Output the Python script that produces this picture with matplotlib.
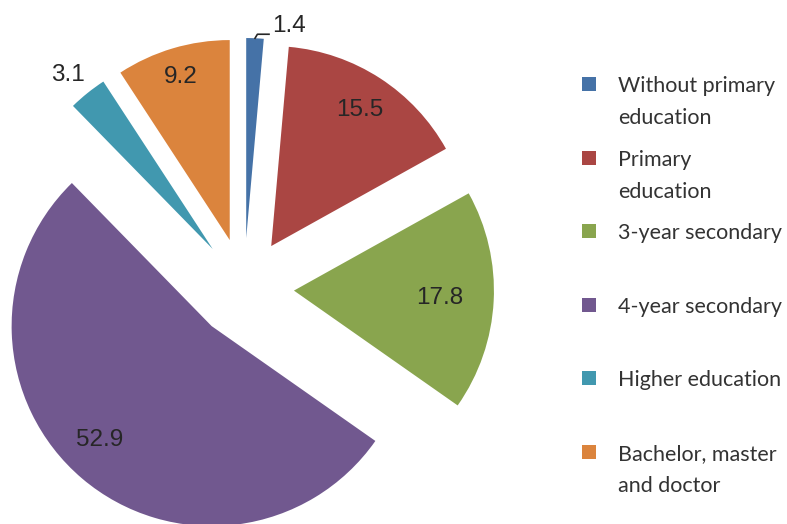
import matplotlib
matplotlib.use("Agg")
import matplotlib.pyplot as plt
from matplotlib.patches import Rectangle
import numpy as np

categories = ["Without primary education", "Primary education", "3-year secondary",
              "4-year secondary", "Higher education", "Bachelor, master and doctor"]
legend_lines = [["Without primary", "education"], ["Primary", "education"],
                ["3-year secondary"], ["4-year secondary"], ["Higher education"],
                ["Bachelor, master", "and doctor"]]
values = [1.4, 15.5, 17.8, 52.9, 3.1, 9.2]
value_labels = ["1.4", "15.5", "17.8", "52.9", "3.1", "9.2"]

colors = ["#4572A7", "#AA4643", "#89A54E", "#71588F", "#4198AF", "#DB843D"]
label_dist = [1.08, 0.81, 0.73, 0.80, 1.13, 0.85]
label_ang_off = [-9, 0, 0, -4, 1, 0]

W, H = 787, 524
fig = plt.figure(figsize=(W / 100, H / 100), dpi=100)
ax = fig.add_axes([0, 0, 1, 1])

R = 200.0
cx, cy = 244.0, 288.0  # pixel position of pie centre (from top)
wedges, _ = ax.pie(values, colors=colors, startangle=90, counterclock=False,
                   explode=[0.25] * len(values), radius=1.0,
                   wedgeprops=dict(linewidth=0))
ax.set_xlim(-cx / R, (W - cx) / R)
ax.set_ylim(-(H - cy) / R, cy / R)
ax.set_aspect("auto")
ax.axis("off")

for w, lab, d, off in zip(wedges, value_labels, label_dist, label_ang_off):
    mid = np.deg2rad((w.theta1 + w.theta2) / 2 + off)
    x0, y0 = w.center
    ax.text(x0 + d * np.cos(mid), y0 + d * np.sin(mid), lab, ha="center", va="center",
            fontsize=17.5, color="#262626", family="Liberation Sans")

# leader line for the small first slice
w = wedges[0]
mid = np.deg2rad((w.theta1 + w.theta2) / 2)
x0, y0 = w.center
px, py = x0 + 1.0 * np.cos(mid), y0 + 1.0 * np.sin(mid)
ax.plot([px, px + 0.012, px + 0.07], [py, py + 0.02, py + 0.02], color="#262626", lw=1.2)

# legend (manual)
fs = 15.5
for i, (lines, col) in enumerate(zip(legend_lines, colors)):
    yc = 84 + i * 73.6
    fig.patches.append(Rectangle((582 / W, 1 - (yc + 7) / H), 14 / W, 14 / H,
                                 transform=fig.transFigure, facecolor=col, edgecolor="none"))
    for k, line in enumerate(lines):
        fig.text(618 / W, 1 - (yc + 2 + k * 32) / H, line, ha="left", va="center",
                 fontsize=fs, color="#333333", family="Lato")

fig.savefig("out.png", dpi=100)
